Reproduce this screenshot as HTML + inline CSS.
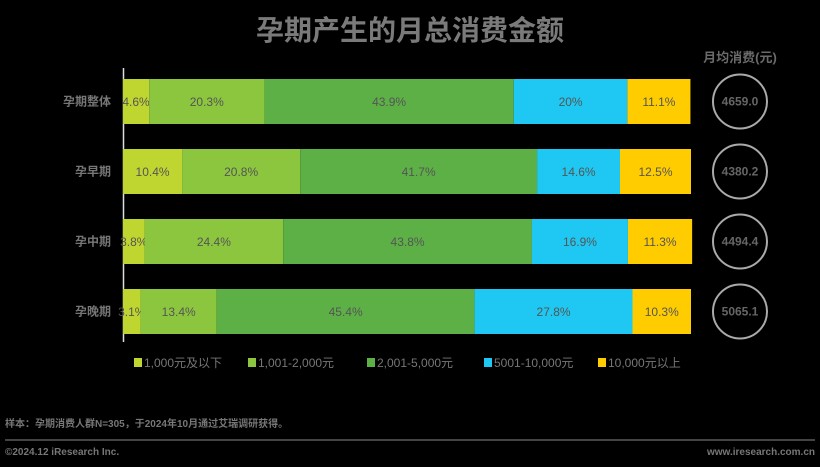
<!DOCTYPE html>
<html><head><meta charset="utf-8"><style>
html,body{margin:0;padding:0;background:#000;}
body{width:820px;height:462px;position:relative;overflow:hidden;font-family:"Liberation Sans","Noto Sans CJK SC",sans-serif;}
</style></head><body>
<svg width="820" height="462" xmlns="http://www.w3.org/2000/svg">
<text x="410" y="40" text-anchor="middle" font-size="28" font-weight="bold" fill="#7a7a7a" font-family="Liberation Sans,Noto Sans CJK SC,sans-serif">孕期产生的月总消费金额</text>
<text x="740" y="62" text-anchor="middle" font-size="13" font-weight="bold" fill="#6a6a6a" font-family="Liberation Sans,Noto Sans CJK SC,sans-serif">月均消费(元)</text>
<line x1="123.5" y1="68" x2="123.5" y2="342" stroke="#ddd" stroke-width="1.5"/>
<g id="bars"></g>
<g id="legend"></g>
<text x="5" y="427" font-size="10" font-weight="bold" fill="#777" font-family="Liberation Sans,Noto Sans CJK SC,sans-serif">样本：孕期消费人群N=305，于2024年10月通过艾瑞调研获得。</text>
<line x1="5" y1="440" x2="815" y2="440" stroke="#888" stroke-width="1"/>
<text x="5" y="455" font-size="10" font-weight="bold" fill="#777">©2024.12 iResearch Inc.</text>
<text x="815" y="455" text-anchor="end" font-size="10" font-weight="bold" fill="#777">www.iresearch.com.cn</text>
</svg>
<script>
const categories=["孕期整体","孕早期","孕中期","孕晚期"];
const seriesNames=["1,000元及以下","1,001-2,000元","2,001-5,000元","5001-10,000元","10,000元以上"];
const s1=[4.6,10.4,3.8,3.1];
const s2=[20.3,20.8,24.4,13.4];
const s3=[43.9,41.7,43.8,45.4];
const s4=[20,14.6,16.9,27.8];
const s5=[11.1,12.5,11.3,10.3];
const avgSpend=["4659.0","4380.2","4494.4","5065.1"];
const series=[s1,s2,s3,s4,s5];
const colors=["#bfd630","#8cc63f","#5cb046","#1fc8f2","#ffcc00"];
const NS="http://www.w3.org/2000/svg";
const x0=123,x1=691,rowTop=79,rowStep=70,barH=45;
function xs(v){return v/100*(x1-x0);}
function yRow(i){return rowTop+i*rowStep;}
const g=document.getElementById('bars');
categories.forEach((c,i)=>{
  const y=yRow(i);
  const lab=document.createElementNS(NS,'text');
  
  
  lab.setAttribute('x',111);lab.setAttribute('y',y+barH/2+4);lab.setAttribute('text-anchor','end');
  lab.setAttribute('font-size','12');lab.setAttribute('font-weight','bold');lab.setAttribute('fill','#777');
  lab.textContent=c;g.appendChild(lab);
  let acc=0;
  series.forEach((s,k)=>{
    const v=s[i];const xx=x0+xs(acc);const w=xs(v);
    const r=document.createElementNS(NS,'rect');
    
    
    r.setAttribute('x',xx);r.setAttribute('y',y);r.setAttribute('width',w);r.setAttribute('height',barH);r.setAttribute('fill',colors[k]);
    g.appendChild(r);
    const t=document.createElementNS(NS,'text');
    
    
    t.setAttribute('x',xx+w/2);t.setAttribute('y',y+barH/2+4.5);t.setAttribute('text-anchor','middle');
    t.setAttribute('font-size','12');t.setAttribute('fill','#555');
    t.textContent=v+'%';g.appendChild(t);
    acc+=v;
  });
  const ci=document.createElementNS(NS,'circle');
  
  
  ci.setAttribute('cx',740);ci.setAttribute('cy',y+barH/2);ci.setAttribute('r',27);
  ci.setAttribute('fill','none');ci.setAttribute('stroke','#aaa');ci.setAttribute('stroke-width','2');g.appendChild(ci);
  const at=document.createElementNS(NS,'text');
  
  
  at.setAttribute('x',740);at.setAttribute('y',y+barH/2+4);at.setAttribute('text-anchor','middle');
  at.setAttribute('font-size','12');at.setAttribute('font-weight','bold');at.setAttribute('fill','#666');
  at.textContent=avgSpend[i];g.appendChild(at);
});
const lg=document.getElementById('legend');
const lx=[134,248,367,484,598];
seriesNames.forEach((n,k)=>{
  const r=document.createElementNS(NS,'rect');
  
  
  r.setAttribute('x',lx[k]);r.setAttribute('y',358);r.setAttribute('width',8);r.setAttribute('height',9);r.setAttribute('fill',colors[k]);
  lg.appendChild(r);
  const t=document.createElementNS(NS,'text');
  
  
  t.setAttribute('x',lx[k]+10);t.setAttribute('y',367);t.setAttribute('font-size','12');t.setAttribute('fill','#777');
  t.textContent=n;lg.appendChild(t);
});
</script>
</body></html>
